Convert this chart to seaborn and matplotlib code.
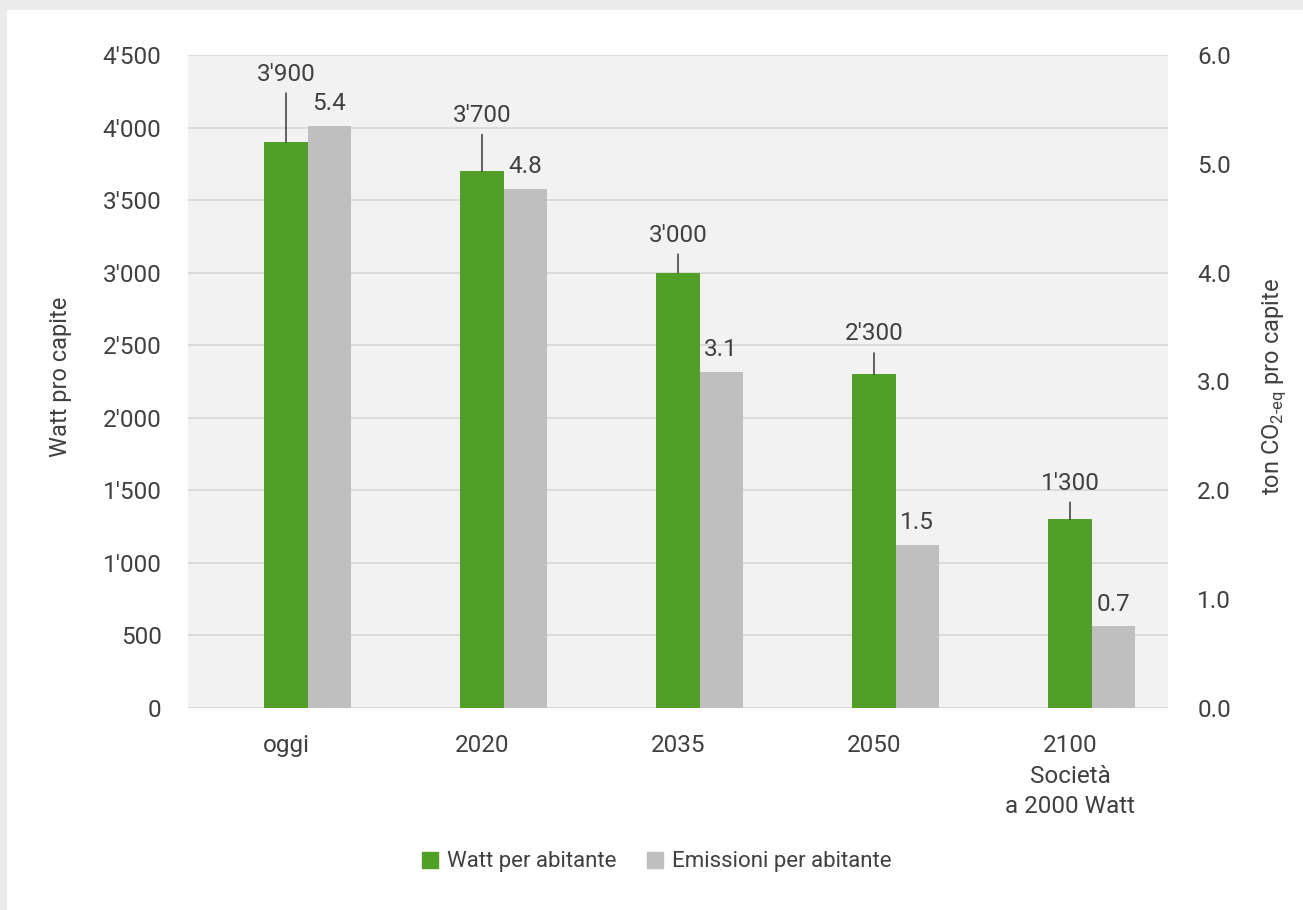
import matplotlib.pyplot as plt
import matplotlib.patches as mpatches
import numpy as np
import pandas as pd
import seaborn as sns

categories = ['oggi', '2020', '2035', '2050', '2100\nSocietà\na 2000 Watt']
watt = [3900, 3700, 3000, 2300, 1300]
emissions = [5.35, 4.77, 3.09, 1.50, 0.75]
watt_labels = ["3'900", "3'700", "3'000", "2'300", "1'300"]
emission_labels = ['5.4', '4.8', '3.1', '1.5', '0.7']
series = ['Watt per abitante', 'Emissioni per abitante']

GREEN = '#519f26'
GREY = '#bfbfbf'
TXT = '#404040'
BAR_W = 0.22
FS = 17.5

sns.set_style('white')
plt.rcParams['font.family'] = ['Roboto', 'DejaVu Sans']
plt.rcParams['mathtext.fontset'] = 'custom'
plt.rcParams['mathtext.rm'] = 'Roboto'
plt.rcParams['text.color'] = TXT

df = pd.DataFrame({'cat': categories, 'watt': watt, 'emissions': emissions})

fig = plt.figure(figsize=(13.03, 9.10), dpi=100, facecolor='#ebebeb')
# white panel (grey frame only on top and left)
fig.patches.append(mpatches.Rectangle((7 / 1303, 0), 1, 1 - 10 / 910, transform=fig.transFigure,
                                      facecolor='white', edgecolor='none', zorder=-10))

ax = fig.add_axes([188 / 1303, 1 - 708 / 910, 980 / 1303, 653 / 910])
ax2 = ax.twinx()
ax.set_facecolor('#f2f2f2')

sns.barplot(data=df, x='cat', y='watt', order=categories, color=GREEN, width=BAR_W,
            saturation=1, errorbar=None, linewidth=0, ax=ax)
sns.barplot(data=df, x='cat', y='emissions', order=categories, color=GREY, width=BAR_W,
            saturation=1, errorbar=None, linewidth=0, ax=ax2)
# grey bars sit just to the right of the green ones
for p in ax2.patches:
    p.set_x(p.get_x() + BAR_W)

ax.set_ylim(0, 4500)
ax2.set_ylim(0, 6)
ax.set_xlim(-0.5, 4.5)
ax.set_yticks(np.arange(0, 4501, 500))
ax2.set_yticks(np.arange(0, 6.01, 1))
ax.set_yticklabels([f"{v:,}".replace(',', "'") for v in range(0, 4501, 500)])
ax2.set_yticklabels([f"{v:.1f}" for v in np.arange(0, 6.01, 1)])
ax.yaxis.grid(True, color='#d9d9d9', linewidth=1.3)
ax.set_axisbelow(True)
for a in (ax, ax2):
    for s in a.spines.values():
        s.set_visible(False)
    a.tick_params(length=0, labelsize=FS, colors=TXT)
ax.tick_params(axis='y', pad=19)
ax2.tick_params(axis='y', pad=21)
ax.tick_params(axis='x', pad=19)
ax.set_xlabel('')
ax.set_ylabel('Watt pro capite', fontsize=17, color=TXT)
ax2.set_ylabel(r'ton CO$_{\text{2-eq}}$ pro capite', fontsize=17, color=TXT)
ax.yaxis.set_label_coords(-0.118, 0.507)
ax2.yaxis.set_label_coords(1.094, 0.493)
for t in ax.get_xticklabels():
    t.set_linespacing(1.4)
    t.set_verticalalignment('top')

# value labels
lifts = [49, 40, 27, 29, 26]
for i, (v, lab) in enumerate(zip(watt, watt_labels)):
    ax.annotate(lab, xy=(i, v), xytext=(0, lifts[i]), textcoords='offset points',
                ha='center', va='center', fontsize=FS, color=TXT,
                arrowprops=dict(arrowstyle='-', color='#262626', lw=1, shrinkA=3, shrinkB=0))
for i, (v, lab) in enumerate(zip(emissions, emission_labels)):
    ax2.annotate(lab, xy=(i + BAR_W, v), xytext=(0, 16), textcoords='offset points',
                 ha='center', va='center', fontsize=FS, color=TXT)

handles = [mpatches.Patch(color=GREEN, label=series[0]), mpatches.Patch(color=GREY, label=series[1])]
fig.legend(handles=handles, loc='center', bbox_to_anchor=(657 / 1303, 1 - 862 / 910), ncol=2,
           frameon=False, fontsize=16, handlelength=0.7, handleheight=0.7, handletextpad=0.4,
           columnspacing=1.4, labelcolor=TXT)

fig.savefig('out.png', dpi=100, facecolor=fig.get_facecolor())
